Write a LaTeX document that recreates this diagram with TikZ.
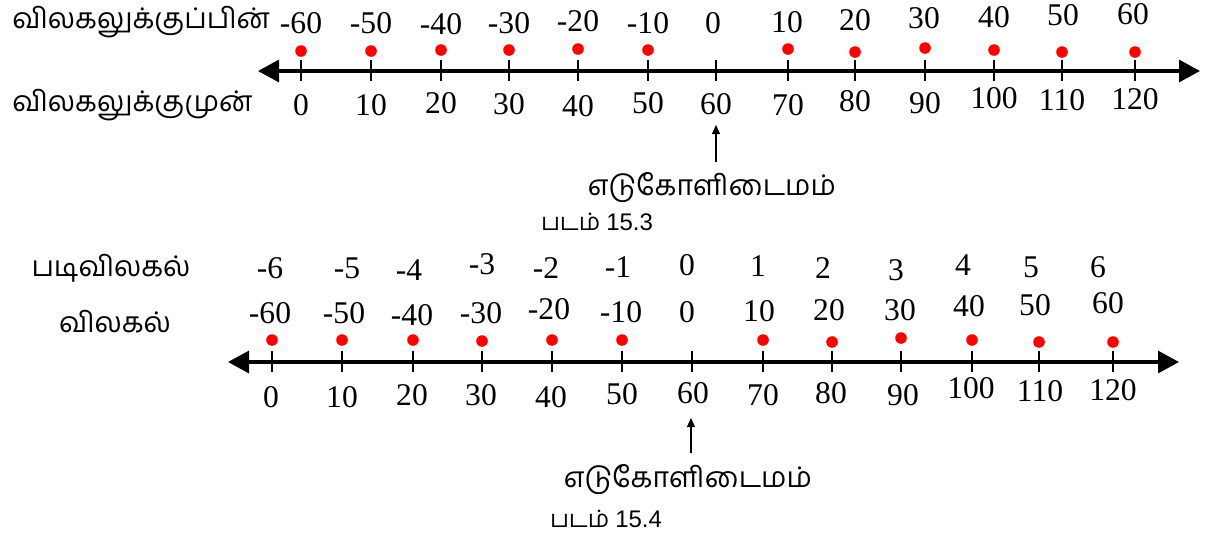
\documentclass[tikz,border=0pt]{standalone}
\usepackage{fontspec}
\setmainfont{Liberation Serif}
\newfontfamily\tamilfont[Script=Tamil]{Hind Madurai}
\newfontfamily\capfont{Liberation Sans}
\usetikzlibrary{arrows.meta}

\begin{document}
\begin{tikzpicture}[x=0.5pt, y=-0.5pt,
    num/.style={font=\fontsize{15.8}{18}\selectfont, inner sep=0pt},
    tam/.style={font=\tamilfont\fontsize{14.2}{17}\selectfont, inner sep=0pt},
    figcap/.style={font=\tamilfont\fontsize{12}{14}\selectfont, inner sep=0pt},
    dot/.style={circle, fill=red, inner sep=0pt, minimum size=5.8pt},
    axis/.style={line width=1.6pt, {Triangle[length=10.5pt,width=11pt]}-{Triangle[length=10.5pt,width=11pt]}},
    tickmark/.style={line width=0.6pt},
    pointer/.style={line width=0.6pt, -{Triangle[length=4.5pt,width=4pt]}}]
  \useasboundingbox (0,0) rectangle (1205,537);

  % figure 15.3
  \coordinate (aL) at (258,71);
  \coordinate (aR) at (1200,71);
  \draw[axis] (aL) -- (aR);
  \foreach \x in {301,371,441,509,578,648,716,788,855,925,994,1062,1135}
    \draw[tickmark] (\x,60) -- (\x,81);
  \foreach \x/\y [count=\i] in {301/51,371/51,441/50,509/50,578/49,648/50,
      788/49,855/52,925/48,994/50,1062/52,1135/52}
    \node[dot] (aD\i) at (\x,\y) {};
  \foreach \x/\y/\t [count=\i] in {301/23/-60,371/23/-50,441/24/-40,509/23/-30,
      578/21/-20,648/23/-10,713/23/0,787/22/10,855/20/20,924/18/30,994/17/40,
      1063/15/50,1133/14/60}
    \node[num] (aU\i) at (\x,\y) {\t};
  \foreach \x/\y/\t [count=\i] in {301/105/0,371/105/10,441/103/20,509/104/30,
      578/106/40,648/103/50,716/104/60,788/105/70,855/101/80,925/103/90,
      994/98/100,1062/100/110,1135/99/120}
    \node[num] (aB\i) at (\x,\y) {\t};
  \node[tam, anchor=west] (aAfter) at (12,22) {விலகலுக்குப்பின்};
  \node[tam, anchor=west] (aBefore) at (12,105) {விலகலுக்குமுன்};
  \coordinate (aFrom) at (716,162);
  \coordinate (aTo) at (716,125);
  \draw[pointer] (aFrom) -- (aTo);
  \node[tam] (aRef) at (712,188) {எடுகோளிடைமம்};
  \node[figcap] (aCap) at (597,222) {படம் {\capfont 15.3}};

  % figure 15.4
  \coordinate (bL) at (228,362);
  \coordinate (bR) at (1179,362);
  \draw[axis] (bL) -- (bR);
  \foreach \x in {272,342,413,482,552,622,692,763,832,901,972,1039,1113}
    \draw[tickmark] (\x,351) -- (\x,372);
  \foreach \x/\y [count=\i] in {272/340,342/340,413/340,482/341,552/340,622/340,
      763/340,832/342,901/338,972/340,1039/342,1113/342}
    \node[dot] (bD\i) at (\x,\y) {};
  \foreach \x/\y/\t [count=\i] in {270/268/-6,347/268/-5,409/270/-4,482/264/-3,
      546/268/-2,618/267/-1,687/265/0,758/266/1,823/268/2,896/270/3,963/265/4,
      1031/267/5,1098/267/6}
    \node[num] (bS\i) at (\x,\y) {\t};
  \foreach \x/\y/\t [count=\i] in {270/313/-60,344/313/-50,412/315/-40,481/313/-30,
      549/309/-20,621/312/-10,687/312/0,759/311/10,829/310/20,900/310/30,
      969/306/40,1035/305/50,1108/303/60}
    \node[num] (bU\i) at (\x,\y) {\t};
  \foreach \x/\y/\t [count=\i] in {271/397/0,342/397/10,412/395/20,481/395/30,
      551/397/40,622/394/50,693/393/60,763/395/70,831/393/80,903/395/90,
      971/388/100,1040/391/110,1113/390/120}
    \node[num] (bB\i) at (\x,\y) {\t};
  \node[tam] (bStd) at (111,268) {படிவிலகல்};
  \node[tam] (bDev) at (115,322) {விலகல்};
  \coordinate (bFrom) at (691,453);
  \coordinate (bTo) at (691,418);
  \draw[pointer] (bFrom) -- (bTo);
  \node[tam] (bRef) at (688,480) {எடுகோளிடைமம்};
  \node[figcap] (bCap) at (606,519) {படம் {\capfont 15.4}};
\end{tikzpicture}
\end{document}
